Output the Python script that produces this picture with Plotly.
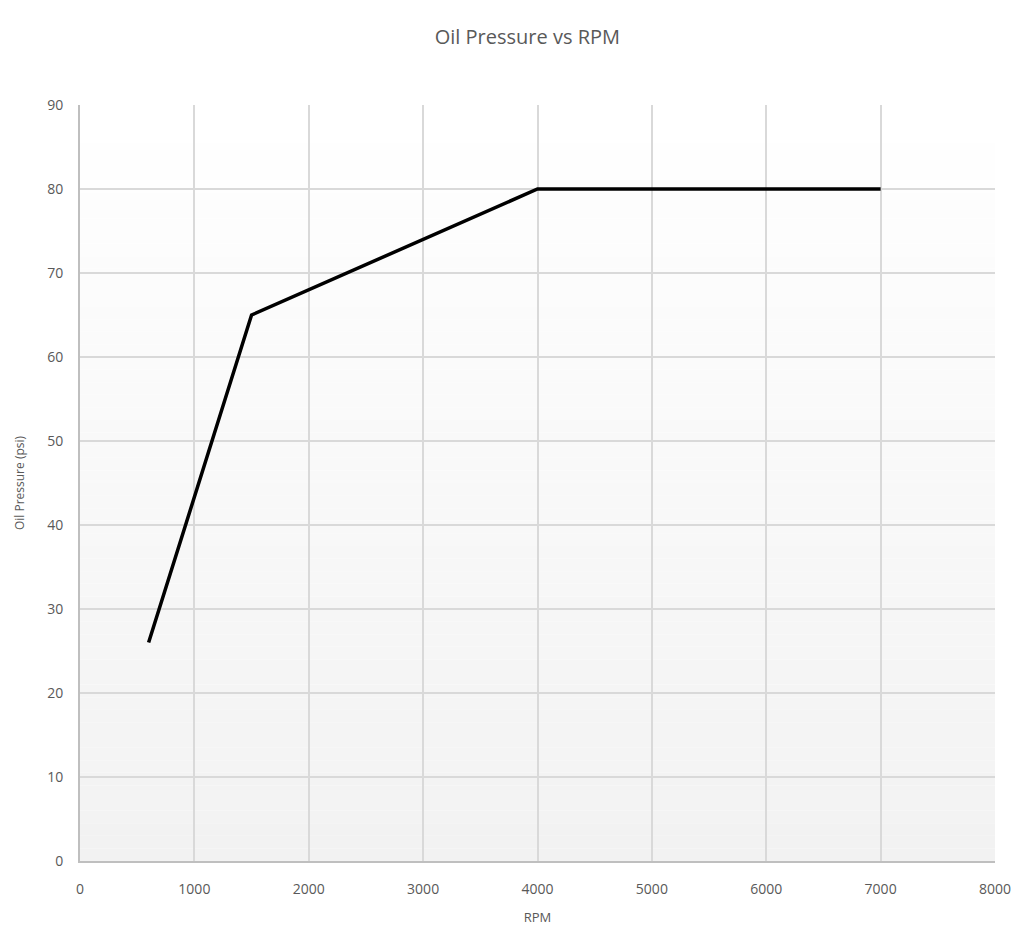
import plotly.graph_objects as go

rpm = [600, 1500, 4000, 7000]
pressure = [26, 65, 80, 80]
x_ticks = [0, 1000, 2000, 3000, 4000, 5000, 6000, 7000, 8000]
y_ticks = [0, 10, 20, 30, 40, 50, 60, 70, 80, 90]

fig = go.Figure()
fig.add_trace(go.Scatter(x=rpm, y=pressure, mode="lines",
                         line=dict(color="#000000", width=3.5), showlegend=False))

# gradient background bands
n = 60
shapes = []
for i in range(n):
    t = i / (n - 1)
    v = int(round(255 - (255 - 242) * (1 - t)))
    shapes.append(dict(type="rect", xref="x domain", yref="y domain",
                       x0=0, x1=1, y0=i / n, y1=(i + 1) / n,
                       fillcolor=f"rgb({v},{v},{v})", line=dict(width=0), layer="below"))

font_family = "Open Sans, Noto Sans, sans-serif"
fig.update_layout(
    width=1024, height=936,
    margin=dict(l=80, r=29, t=105, b=75),
    paper_bgcolor="white", plot_bgcolor="white",
    shapes=shapes,
    title=dict(text="Oil Pressure vs RPM", x=0.515, xanchor="center", y=0.960, yanchor="middle",
               font=dict(family=font_family, size=20, color="#595959")),
    xaxis=dict(range=[0, 8000], tickvals=x_ticks, showgrid=True, gridcolor="#d9d9d9", gridwidth=2,
               showline=True, linecolor="#bfbfbf", linewidth=2, zeroline=False, ticks="",
               tickfont=dict(family=font_family, size=14, color="#595959"),
               ticklabelstandoff=14,
               title=dict(text="RPM", font=dict(family=font_family, size=13, color="#595959"), standoff=16),
               layer="below traces"),
    yaxis=dict(range=[0, 90], tickvals=y_ticks, showgrid=True, gridcolor="#d9d9d9", gridwidth=2,
               showline=True, linecolor="#bfbfbf", linewidth=2, zeroline=False, ticks="",
               tickfont=dict(family=font_family, size=14, color="#595959"),
               ticklabelstandoff=12,
               title=dict(text="Oil Pressure (psi)", font=dict(family=font_family, size=12, color="#595959"), standoff=20),
               layer="below traces"),
)
fig.write_html("out.html")
